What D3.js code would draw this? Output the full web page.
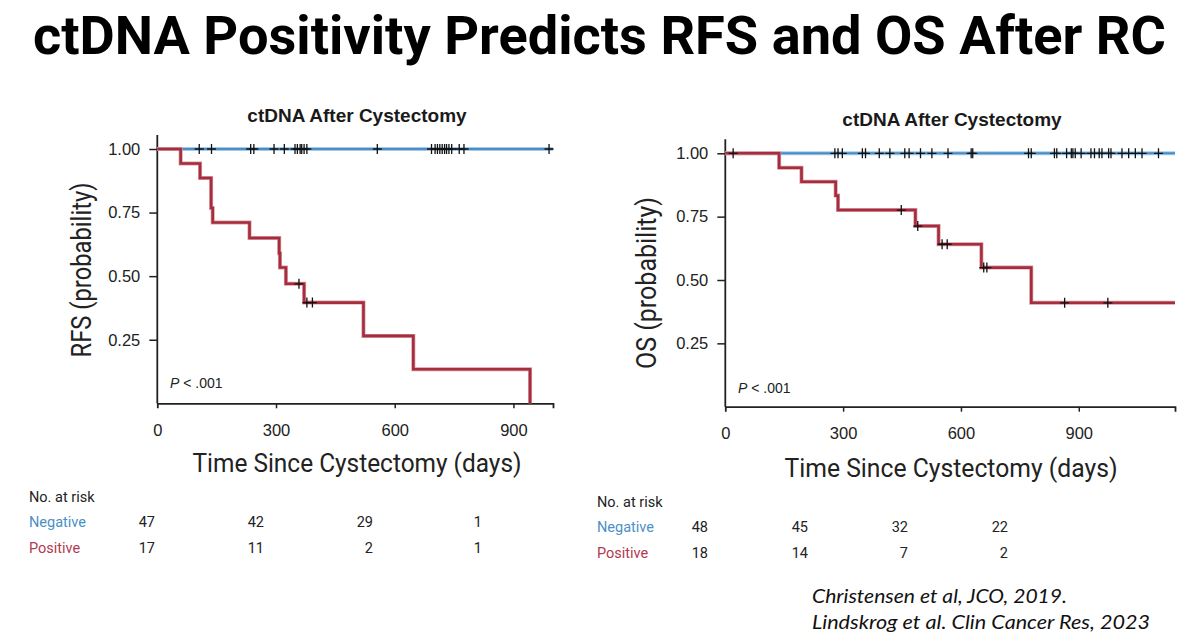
<!DOCTYPE html>
<html><head><meta charset="utf-8">
<script src="https://cdn.jsdelivr.net/npm/d3@7"></script>
<style>body{margin:0;background:#fff}svg{display:block}</style>
</head><body><svg id="c" width="1200" height="635"></svg>
<script>
// ---------- data ----------
const mainTitle = "ctDNA Positivity Predicts RFS and OS After RC";
const panelTitle = "ctDNA After Cystectomy";
const xTicks = [0, 300, 600, 900];
const yTicks = [0.25, 0.50, 0.75, 1.00];
const groups = ["Negative", "Positive"];

// RFS panel
const rfsNegCensor = [106,137,236,244,295,321,348,354,361,365,371,378,556,693,702,708,714,720,726,731,737,744,763,775,990];
const rfsPosTimes = [0, 59, 108, 136, 140, 233, 308, 310, 325, 371, 521, 647, 942];
const rfsPosSurv  = [1, 0.943, 0.886, 0.768, 0.711, 0.650, 0.590, 0.534, 0.470, 0.396, 0.265, 0.134, 0];
const rfsPosCensorT = [358, 378, 392];
const rfsPosCensorS = [0.470, 0.396, 0.396];
const rfsRiskNeg = [47, 42, 29, 1];
const rfsRiskPos = [17, 11, 2, 1];

// OS panel
const osNegCensor = [20,279,287,298,349,357,392,419,457,468,497,526,567,626,630,772,779,838,844,869,881,885,891,906,931,940,952,959,976,982,1010,1027,1044,1061,1103];
const osPosTimes = [0, 137, 194, 281, 287, 484, 543, 652, 779];
const osPosSurv  = [1, 0.943, 0.888, 0.833, 0.776, 0.713, 0.641, 0.549, 0.410];
const osPosCensorT = [448, 490, 552, 565, 658, 666, 864, 974];
const osPosCensorS = [0.776, 0.713, 0.641, 0.641, 0.549, 0.549, 0.410, 0.410];
const osRiskNeg = [48, 45, 32, 22];
const osRiskPos = [18, 14, 7, 2];

const citations = ["Christensen et al, JCO, 2019.", "Lindskrog et al. Clin Cancer Res, 2023"];

// ---------- drawing ----------
const BLUE = "#4a8cc6", RED = "#a52d3e", TXTBLUE = "#4b8fc6", TXTRED = "#b2394f";
const svg = d3.select("#c");

svg.append("text").attr("x", 33).attr("y", 54)
  .attr("font-family", "Roboto, Arial, sans-serif").attr("font-weight", 700)
  .attr("font-size", 53).attr("textLength", 1133).attr("lengthAdjust", "spacingAndGlyphs")
  .attr("fill", "#000").text(mainTitle);

function panel(cfg) {
  const g = svg.append("g");
  const x = d3.scaleLinear().domain([0, cfg.xMax]).range([cfg.x0, cfg.x1]);
  const y = d3.scaleLinear().domain([0, 1]).range([cfg.y0, cfg.y1]);

  // title
  g.append("text").attr("x", cfg.titleX).attr("y", cfg.titleY).attr("text-anchor", "middle")
    .attr("font-family", "'Liberation Sans', Arial, sans-serif").attr("font-weight", 700)
    .attr("font-size", 19).attr("fill", "#1a1a1a").text(panelTitle);

  // y axis
  const ya = g.append("g").attr("transform", `translate(${cfg.x0},0)`)
    .call(d3.axisLeft(y).tickValues(yTicks).tickFormat(d3.format(".2f")).tickSize(8).tickPadding(9));
  ya.select(".domain").remove();
  ya.selectAll("line").attr("stroke", "#222").attr("stroke-width", 1.5);
  ya.selectAll("text").attr("font-family", "'Liberation Sans', Arial, sans-serif").attr("font-size", 16.5).attr("fill", "#222");
  g.append("line").attr("x1", cfg.x0).attr("x2", cfg.x0).attr("y1", y(0)).attr("y2", y(1) - 14)
    .attr("stroke", "#222").attr("stroke-width", 1.8);

  // x axis
  const xa = g.append("g").attr("transform", `translate(0,${cfg.y0})`)
    .call(d3.axisBottom(x).tickValues(xTicks).tickSizeOuter(0).tickSize(5).tickPadding(16));
  xa.select(".domain").attr("stroke", "#222").attr("stroke-width", 1.8);
  xa.selectAll(".tick line").attr("stroke", "#222").attr("stroke-width", 1.5)
    .filter(d => d === 0).remove();
  xa.selectAll("text").attr("font-family", "'Liberation Sans', Arial, sans-serif").attr("font-size", 16.5).attr("fill", "#222");

  // axis titles
  g.append("text").attr("x", cfg.xtX).attr("y", cfg.xtY).attr("text-anchor", "middle")
    .attr("font-family", "Roboto, Arial, sans-serif").attr("font-size", 26)
    .attr("textLength", cfg.xtLen).attr("lengthAdjust", "spacingAndGlyphs")
    .attr("fill", "#222").text("Time Since Cystectomy (days)");
  g.append("text").attr("transform", `translate(${cfg.ytX},${cfg.ytY}) rotate(-90)`).attr("text-anchor", "middle")
    .attr("font-family", "Roboto, Arial, sans-serif").attr("font-size", 27)
    .attr("textLength", cfg.ytLen).attr("lengthAdjust", "spacingAndGlyphs")
    .attr("fill", "#222").text(cfg.yLabel);

  // curves
  const line = d3.line().x(d => x(d[0])).y(d => y(d[1])).curve(d3.curveStepAfter);
  g.append("path").datum([[0, 1], [cfg.xMax, 1]]).attr("d", line)
    .attr("fill", "none").attr("stroke", "#a9cbe8").attr("stroke-width", 4);
  g.append("path").datum([[0, 1], [cfg.xMax, 1]]).attr("d", line)
    .attr("fill", "none").attr("stroke", BLUE).attr("stroke-width", 2);
  const posPts = cfg.posT.map((t, i) => [t, cfg.posS[i]]);
  if (cfg.posEnd !== undefined) posPts.push([cfg.posEnd, cfg.posS[cfg.posS.length - 1]]);
  g.append("path").datum(posPts).attr("d", line)
    .attr("fill", "none").attr("stroke", "#d99aa3").attr("stroke-width", 4);
  g.append("path").datum(posPts).attr("d", line)
    .attr("fill", "none").attr("stroke", RED).attr("stroke-width", 2.6);

  // censor marks
  const cross = (px, py) => `M${px - 4.5},${py}H${px + 4.5}M${px},${py - 5}V${py + 5}`;
  g.append("g").selectAll("path").data(cfg.negCensor).join("path")
    .attr("d", d => cross(x(d), y(1))).attr("stroke", "#111").attr("stroke-width", 1.3).attr("fill", "none");
  g.append("g").selectAll("path").data(cfg.posCT.map((t, i) => [t, cfg.posCS[i]])).join("path")
    .attr("d", d => cross(x(d[0]), y(d[1]))).attr("stroke", "#111").attr("stroke-width", 1.3).attr("fill", "none");

  // p-value
  const pt = g.append("text").attr("x", cfg.pX).attr("y", cfg.pY)
    .attr("font-family", "'Liberation Sans', Arial, sans-serif").attr("font-size", 14).attr("fill", "#222");
  pt.append("tspan").attr("font-style", "italic").text("P");
  pt.append("tspan").text(" < .001");

  // risk table
  const rx = d3.scalePoint().domain(xTicks).range([cfg.riskX0, cfg.riskX1]);
  const tf = "Roboto, Arial, sans-serif";
  g.append("text").attr("x", cfg.labX).attr("y", cfg.riskY[0]).attr("font-family", tf)
    .attr("font-size", 14.5).attr("fill", "#222").text("No. at risk");
  const rows = [[groups[0], cfg.riskNeg, TXTBLUE], [groups[1], cfg.riskPos, TXTRED]];
  rows.forEach((r, i) => {
    g.append("text").attr("x", cfg.labX).attr("y", cfg.riskY[i + 1]).attr("font-family", tf)
      .attr("font-size", 14.5).attr("fill", r[2]).text(r[0]);
    g.append("g").selectAll("text").data(r[1]).join("text")
      .attr("x", (d, j) => rx(xTicks[j])).attr("y", cfg.riskY[i + 1]).attr("text-anchor", "end")
      .attr("font-family", tf).attr("font-size", 14.5).attr("fill", "#222").text(d => d);
  });
}

panel({
  xMax: 1000, x0: 157.3, x1: 553, y0: 403.3, y1: 149,
  titleX: 357, titleY: 121.5,
  xtX: 357, xtY: 472, xtLen: 329,
  ytX: 91, ytY: 270, ytLen: 175, yLabel: "RFS (probability)",
  negCensor: rfsNegCensor, posT: rfsPosTimes, posS: rfsPosSurv,
  posCT: rfsPosCensorT, posCS: rfsPosCensorS,
  pX: 170, pY: 388,
  riskNeg: rfsRiskNeg, riskPos: rfsRiskPos,
  riskX0: 155, riskX1: 482, labX: 29, riskY: [501.5, 526.5, 553]
});

panel({
  xMax: 1145, x0: 725.3, x1: 1175, y0: 406.7, y1: 153.3,
  titleX: 952, titleY: 126,
  xtX: 951, xtY: 477, xtLen: 333,
  ytX: 656, ytY: 283, ytLen: 172, yLabel: "OS (probability)",
  negCensor: osNegCensor, posT: osPosTimes, posS: osPosSurv, posEnd: 1145,
  posCT: osPosCensorT, posCS: osPosCensorS,
  pX: 738, pY: 393,
  riskNeg: osRiskNeg, riskPos: osRiskPos,
  riskX0: 708, riskX1: 1008, labX: 597, riskY: [506.5, 531.5, 558]
});

// citations
citations.forEach((c, i) => {
  svg.append("text").attr("x", 812).attr("y", 603 + i * 25.5)
    .attr("font-family", "Lato, 'Open Sans', sans-serif").attr("font-style", "italic")
    .attr("font-size", 18.5).attr("textLength", i === 0 ? 255 : 338).attr("lengthAdjust", "spacingAndGlyphs")
    .attr("fill", "#111").text(c);
});
</script></body></html>
